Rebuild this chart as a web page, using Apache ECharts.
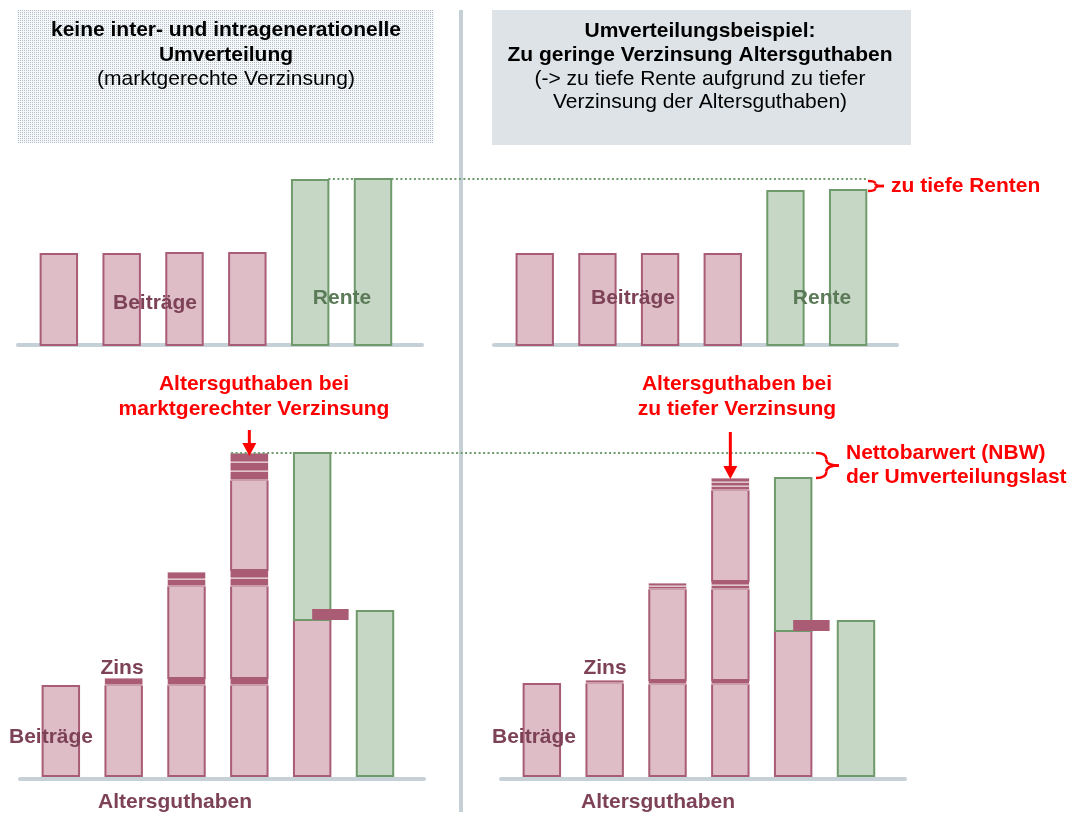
<!DOCTYPE html>
<html>
<head>
<meta charset="utf-8">
<title>Umverteilung Altersguthaben</title>
<script src="https://cdn.jsdelivr.net/npm/echarts@6/dist/echarts.min.js"></script>
<style>
  html, body { margin: 0; padding: 0; background: #ffffff; }
  #chart { width: 1073px; height: 814px; }
</style>
</head>
<body>
<div id="chart"></div>
<script>
// Jahre der Modellrechnung (Beitragsjahre 1–4, Rentenjahre 5–6)
const jahre = ['1', '2', '3', '4', '5', '6'];

// Jährliche Flüsse oben: Beiträge und Renten
const beitraegeMarkt = [91, 91, 92, 92];
const renteMarkt = [165, 166];
const beitraegeTief = [91, 91, 91, 91];
const renteTief = [154, 155];

// Altersguthaben je Jahr, Schichten von unten nach oben:
// B = Beitrag, Z = Zins, R = Rentenbezug, ZR = Zins auf dem Restguthaben
const guthabenMarkt = [
  [['B', 90]],
  [['B', 91], ['Z', 7]],
  [['B', 91], ['Z', 7], ['B', 92], ['Z', 7], ['Z', 7]],
  [['B', 91], ['Z', 7], ['B', 92], ['Z', 8], ['Z', 8], ['B', 90], ['Z', 9], ['Z', 9], ['Z', 9]],
  [['B', 156], ['ZR', 11], ['R', 167]],
  [['R', 165]]
];
const guthabenTief = [
  [['B', 92]],
  [['B', 93], ['Z', 3]],
  [['B', 92], ['Z', 4], ['B', 91], ['Z', 3], ['Z', 3]],
  [['B', 92], ['Z', 4], ['B', 91], ['Z', 4], ['Z', 4], ['B', 91], ['Z', 4], ['Z', 4], ['Z', 4]],
  [['B', 145], ['ZR', 11], ['R', 153]],
  [['R', 155]]
];

// Texte
const titelLinks = ['keine inter- und intragenerationelle', 'Umverteilung', '(marktgerechte Verzinsung)'];
const titelRechts = ['Umverteilungsbeispiel:', 'Zu geringe Verzinsung Altersguthaben',
  '(-> zu tiefe Rente aufgrund zu tiefer', 'Verzinsung der Altersguthaben)'];
const hinweisLinks = ['Altersguthaben bei', 'marktgerechter Verzinsung'];
const hinweisRechts = ['Altersguthaben bei', 'zu tiefer Verzinsung'];
const hinweisRenten = 'zu tiefe Renten';
const hinweisNBW = ['Nettobarwert (NBW)', 'der Umverteilungslast'];

const FONT = "'Liberation Sans', Arial, sans-serif";
const FONT_SIZE = 21;
const COL = {
  pinkFill: '#dfbdc7', pinkLine: '#a95c76', band: '#a95c73',
  greenFill: '#c6d7c6', greenLine: '#6f9a6c',
  axis: '#c5d0d7', red: '#ff0000', maroon: '#7d4257', green: '#5b7a57'
};

const flussMarkt = beitraegeMarkt.map(v => [['B', v]]).concat(renteMarkt.map(v => [['R', v]]));
const flussTief = beitraegeTief.map(v => [['B', v]]).concat(renteTief.map(v => [['R', v]]));
const stapelSumme = segs => segs.filter(s => s[0] !== 'ZR').reduce((a, s) => a + s[1], 0);

const BAR_SHARE = 0.58;

function columnSeries(gridIndex, columns) {
  return {
    type: 'custom',
    xAxisIndex: gridIndex,
    yAxisIndex: gridIndex,
    encode: { x: 0, y: 1 },
    data: columns.map((segs, i) => [i, stapelSumme(segs)]),
    renderItem(params, api) {
      const segs = columns[params.dataIndex];
      const i = api.value(0);
      const w = api.size([1, 0])[0] * BAR_SHARE;
      const cx = api.coord([i, 0])[0];
      const body = [], over = [];
      let base = 0;
      segs.forEach(([kind, v]) => {
        const y0 = api.coord([i, base])[1];
        const y1 = api.coord([i, base + v])[1];
        const h = y0 - y1;
        if (kind === 'B') {
          body.push({ type: 'rect', shape: { x: cx - w / 2, y: y1, width: w, height: h },
            style: { fill: COL.pinkFill, stroke: COL.pinkLine, lineWidth: 2 } });
        } else if (kind === 'Z') {
          body.push({ type: 'rect', shape: { x: cx - w / 2 - 1, y: y1, width: w + 2, height: h },
            style: { fill: COL.band, stroke: '#ffffff', lineWidth: 0.8 } });
        } else if (kind === 'R') {
          body.push({ type: 'rect', shape: { x: cx - w / 2, y: y1, width: w, height: h },
            style: { fill: COL.greenFill, stroke: COL.greenLine, lineWidth: 2 } });
        } else if (kind === 'ZR') {
          over.push({ type: 'rect', shape: { x: cx, y: y1, width: w, height: h },
            style: { fill: COL.band } });
        }
        if (kind !== 'ZR') base += v;
      });
      return { type: 'group', children: body.concat(over) };
    }
  };
}

function xAxisAt(gridIndex, offset) {
  return {
    type: 'value', gridIndex, min: -0.65, max: 5.78, offset,
    axisLine: { show: true, onZero: false, lineStyle: { color: COL.axis, width: 4 } },
    axisTick: { show: false }, axisLabel: { show: false }, splitLine: { show: false }
  };
}
function yAxisAt(gridIndex, max) {
  return { type: 'value', gridIndex, min: 0, max, show: false, splitLine: { show: false } };
}

const chart = echarts.init(document.getElementById('chart'), null, { renderer: 'canvas' });

chart.setOption({
  animation: false,
  backgroundColor: '#ffffff',
  grid: [
    { left: 18, width: 404, top: 145, height: 200 },
    { left: 20, width: 404, top: 436, height: 340 },
    { left: 494, width: 403, top: 145, height: 200 },
    { left: 501, width: 404, top: 436, height: 340 }
  ],
  xAxis: [xAxisAt(0, 0), xAxisAt(1, 3), xAxisAt(2, 0), xAxisAt(3, 3)],
  yAxis: [yAxisAt(0, 200), yAxisAt(1, 340), yAxisAt(2, 200), yAxisAt(3, 340)],
  series: [
    columnSeries(0, flussMarkt),
    columnSeries(1, guthabenMarkt),
    columnSeries(2, flussTief),
    columnSeries(3, guthabenTief)
  ]
});

// Hilfsfunktionen für Beschriftung und Markierungen
const px = (g, x, y) => chart.convertToPixel({ gridIndex: g }, [x, y]);
const barHalf = g => (px(g, 1, 0)[0] - px(g, 0, 0)[0]) * BAR_SHARE / 2;

function label(text, x, y, opt) {
  opt = opt || {};
  return {
    type: 'text', x, y, z: 20,
    style: {
      text,
      font: (opt.bold === false ? '' : 'bold ') + (opt.size || FONT_SIZE) + 'px ' + FONT,
      fill: opt.color || '#000000',
      align: opt.align || 'center', verticalAlign: 'middle',
      textAlign: opt.align || 'center', textVerticalAlign: 'middle'
    }
  };
}

function dotted(x1, x2, y) {
  return { type: 'line', z: 15, shape: { x1, y1: y, x2, y2: y },
    style: { stroke: COL.greenLine, lineWidth: 2, lineDash: [2, 2.5] } };
}

function brace(x0, y1, y2, d) {
  const xm = x0 + d * 0.45, ym = (y1 + y2) / 2, r = Math.min(6, (y2 - y1) / 4);
  const st = { stroke: COL.red, lineWidth: 2.5, fill: null };
  return [
    { type: 'bezierCurve', z: 20, shape: { x1: x0, y1: y1, cpx1: xm, cpy1: y1, x2: xm, y2: y1 + r }, style: st },
    { type: 'line', z: 20, shape: { x1: xm, y1: y1 + r, x2: xm, y2: ym - r }, style: st },
    { type: 'bezierCurve', z: 20, shape: { x1: xm, y1: ym - r, cpx1: xm, cpy1: ym, x2: x0 + d, y2: ym }, style: st },
    { type: 'bezierCurve', z: 20, shape: { x1: x0 + d, y1: ym, cpx1: xm, cpy1: ym, x2: xm, y2: ym + r }, style: st },
    { type: 'line', z: 20, shape: { x1: xm, y1: ym + r, x2: xm, y2: y2 - r }, style: st },
    { type: 'bezierCurve', z: 20, shape: { x1: xm, y1: y2 - r, cpx1: xm, cpy1: y2, x2: x0, y2: y2 }, style: st }
  ];
}

function arrow(x, yStart, yTip) {
  return [
    { type: 'rect', z: 20, shape: { x: x - 1.5, y: yStart, width: 3, height: yTip - yStart - 10 },
      style: { fill: COL.red } },
    { type: 'polygon', z: 20, shape: { points: [[x - 7, yTip - 13], [x + 7, yTip - 13], [x, yTip]] },
      style: { fill: COL.red } }
  ];
}

// feines Punktraster für das linke Titelfeld
function dotPattern() {
  const c = document.createElement('canvas');
  c.width = 2; c.height = 2;
  const g = c.getContext('2d');
  g.fillStyle = '#f6f8f9'; g.fillRect(0, 0, 2, 2);
  g.fillStyle = '#b4bec9'; g.fillRect(0, 0, 1, 1);
  return { image: c, repeat: 'repeat' };
}

// Positionen aus den Achsen
const topRenteMarkt = px(0, 5, renteMarkt[1])[1];
const topRenteTief = px(2, 5, renteTief[1])[1];
const links4 = px(1, 3, stapelSumme(guthabenMarkt[3]));
const rechts4 = px(3, 3, stapelSumme(guthabenTief[3]));
const rechtsRente = px(3, 4, stapelSumme(guthabenTief[4]));

const elements = [
  { type: 'rect', z: 1, shape: { x: 17, y: 10, width: 417, height: 133 }, style: { fill: dotPattern() } },
  { type: 'rect', z: 1, shape: { x: 492, y: 10, width: 419, height: 135 }, style: { fill: '#dde3e7' } },
  { type: 'rect', z: 1, shape: { x: 459, y: 10, width: 4, height: 802 }, style: { fill: '#c5cfd6' } },

  label(titelLinks[0], 226, 30),
  label(titelLinks[1], 226, 55),
  label(titelLinks[2], 226, 79, { bold: false }),
  label(titelRechts[0], 700, 31),
  label(titelRechts[1], 700, 55),
  label(titelRechts[2], 700, 79, { bold: false }),
  label(titelRechts[3], 700, 102, { bold: false }),

  dotted(px(0, 4, 0)[0] + barHalf(0), px(2, 5, 0)[0] + barHalf(2), topRenteMarkt),
  dotted(links4[0] - barHalf(1), 817, links4[1]),

  label('Beiträge', 155, 303, { color: COL.maroon }),
  label('Rente', 342, 298, { color: COL.green }),
  label('Beiträge', 633, 298, { color: COL.maroon }),
  label('Rente', 822, 298, { color: COL.green }),

  label(hinweisLinks[0], 254, 384, { color: COL.red }),
  label(hinweisLinks[1], 254, 409, { color: COL.red }),
  label(hinweisRechts[0], 737, 384, { color: COL.red }),
  label(hinweisRechts[1], 737, 409, { color: COL.red }),
  label(hinweisRenten, 891, 186, { color: COL.red, align: 'left' }),
  label(hinweisNBW[0], 846, 453, { color: COL.red, align: 'left' }),
  label(hinweisNBW[1], 846, 477, { color: COL.red, align: 'left' }),

  label('Zins', 122, 668, { color: COL.maroon }),
  label('Beiträge', 51, 737, { color: COL.maroon }),
  label('Altersguthaben', 175, 802, { color: COL.maroon }),
  label('Zins', 605, 668, { color: COL.maroon }),
  label('Beiträge', 534, 737, { color: COL.maroon }),
  label('Altersguthaben', 658, 802, { color: COL.maroon })
]
  .concat(brace(868, topRenteMarkt + 2, topRenteTief + 1, 16))
  .concat(brace(816, links4[1], rechtsRente[1], 23))
  .concat(arrow(links4[0], 430, links4[1] + 3))
  .concat(arrow(rechts4[0], 432, rechts4[1] + 1));

chart.setOption({ graphic: { elements } });
</script>
</body>
</html>
